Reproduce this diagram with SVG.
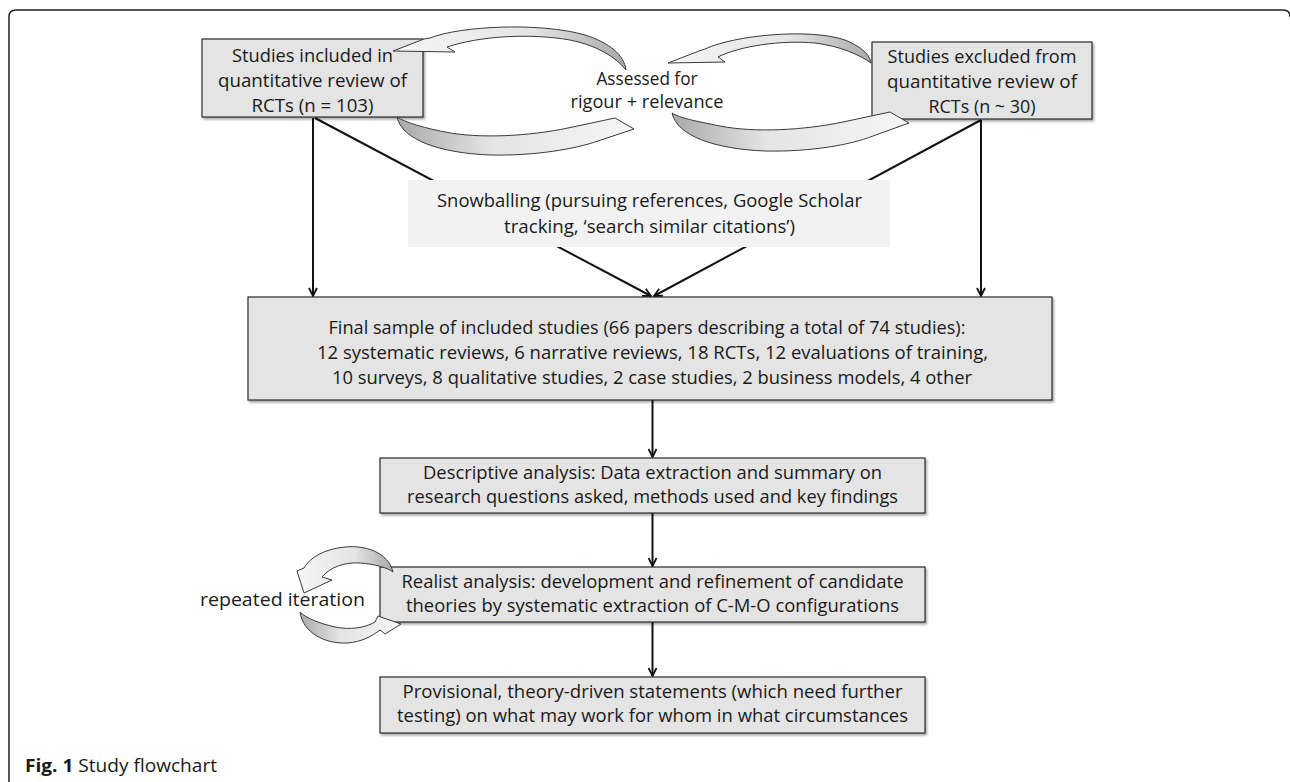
<svg xmlns="http://www.w3.org/2000/svg" width="1290" height="782" viewBox="0 0 1290 782">
  <style>
    .t { font-family: "Open Sans", "Noto Sans", "Liberation Sans", sans-serif; font-size: 18.5px; fill: #1a1a1a; }
    .box { fill: #e4e4e4; stroke: #2a2a2a; stroke-width: 1.2; filter: url(#sh); }
    .soft { fill: #f2f2f2; stroke: none; }
    .con { stroke: #111; stroke-width: 2; fill: none; marker-end: url(#ah); }
    .arcR { fill: url(#gR); stroke: #3a3a3a; stroke-width: 1; stroke-linejoin: round; }
    .arcL { fill: url(#gL); stroke: #3a3a3a; stroke-width: 1; stroke-linejoin: round; }
    .frame { fill: none; stroke: #222; stroke-width: 1.5; }
  </style>
  <defs>
    <marker id="ah" viewBox="0 0 10 10" refX="9" refY="5" markerWidth="10" markerHeight="10" markerUnits="userSpaceOnUse" orient="auto">
      <path d="M1,1 L9,5 L1,9" fill="none" stroke="#111" stroke-width="1.8"/>
    </marker>
    <linearGradient id="gR" x1="0" y1="0" x2="1" y2="0">
      <stop offset="0" stop-color="#f6f6f6"/>
      <stop offset="0.6" stop-color="#e4e4e4"/>
      <stop offset="1" stop-color="#a9a9a9"/>
    </linearGradient>
    <linearGradient id="gL" x1="1" y1="0" x2="0" y2="0">
      <stop offset="0" stop-color="#f6f6f6"/>
      <stop offset="0.6" stop-color="#e4e4e4"/>
      <stop offset="1" stop-color="#a9a9a9"/>
    </linearGradient>
    <filter id="sh" x="-5%" y="-5%" width="115%" height="130%">
      <feDropShadow dx="1.5" dy="2" stdDeviation="1.2" flood-color="#000" flood-opacity="0.35"/>
    </filter>
  </defs>

  <rect width="1290" height="782" fill="#fff"/>
  <path class="frame" d="M9,782 V17 Q9,10 16,10 H1283 Q1290,10 1290,17"/>

  <g id="connectors">
    <line class="con" x1="313" y1="118" x2="313" y2="296"/>
    <line class="con" x1="315" y1="118" x2="651" y2="296"/>
    <line class="con" x1="981" y1="120" x2="981" y2="296"/>
    <line class="con" x1="981" y1="120" x2="654" y2="296"/>
    <line class="con" x1="652.5" y1="400" x2="652.5" y2="457"/>
    <line class="con" x1="652.5" y1="513" x2="652.5" y2="566"/>
    <line class="con" x1="652.5" y1="622" x2="652.5" y2="676"/>
  </g>

  <g id="snowballing">
    <rect class="soft" x="408" y="180" width="482" height="67"/>
    <text class="t" x="649.5" y="207" text-anchor="middle" textLength="425" lengthAdjust="spacingAndGlyphs">Snowballing (pursuing references, Google Scholar</text>
    <text class="t" x="649.5" y="233" text-anchor="middle" textLength="291" lengthAdjust="spacingAndGlyphs">tracking, ‘search similar citations’)</text>
  </g>

  <g id="included">
    <rect class="box" x="202" y="39" width="221" height="78"/>
    <text class="t" x="312.5" y="62" text-anchor="middle" textLength="161" lengthAdjust="spacingAndGlyphs">Studies included in</text>
    <text class="t" x="312.5" y="87" text-anchor="middle" textLength="189" lengthAdjust="spacingAndGlyphs">quantitative review of</text>
    <text class="t" x="312.5" y="112" text-anchor="middle" textLength="122" lengthAdjust="spacingAndGlyphs">RCTs (n = 103)</text>
  </g>

  <g id="excluded">
    <rect class="box" x="872" y="42" width="220" height="77"/>
    <text class="t" x="982" y="63" text-anchor="middle" textLength="189" lengthAdjust="spacingAndGlyphs">Studies excluded from</text>
    <text class="t" x="982" y="88" text-anchor="middle" textLength="190" lengthAdjust="spacingAndGlyphs">quantitative review of</text>
    <text class="t" x="982" y="113" text-anchor="middle" textLength="107" lengthAdjust="spacingAndGlyphs">RCTs (n ~ 30)</text>
  </g>

  <g id="assessed">
    <text class="t" x="647" y="85" text-anchor="middle" textLength="101" lengthAdjust="spacingAndGlyphs">Assessed for</text>
    <text class="t" x="647" y="108" text-anchor="middle" textLength="153" lengthAdjust="spacingAndGlyphs">rigour + relevance</text>
  </g>

  <g id="assess-cycle">
    <path class="arcR" d="M393,51 L424,39 L430,38 C460,26 540,22 585,35 C610,43 624,55 626,70 C615,56 595,45 570,40 C530,33 480,36 447,47 L455,52 Z"/>
    <path class="arcL" d="M397,117 C402,140 440,153 490,155 C535,156 575,149 598,141 L634,129 L615,118 L568,128 C530,136 480,139 445,132 C420,127 405,122 397,117 Z"/>
    <path class="arcR" d="M668,63 L699,51 L705,49 C735,35 810,28 845,40 C862,47 870,55 871,63 C860,55 840,46 815,43 C780,40 740,46 718,57 L725,62 Z"/>
    <path class="arcL" d="M672,113 C677,136 715,149 765,151 C810,152 850,145 873,136 L909,123 L890,112 L843,122 C805,130 755,133 720,126 C695,121 680,118 672,113 Z"/>
  </g>

  <g id="final">
    <rect class="box" x="248" y="297" width="804" height="103"/>
    <text class="t" x="647" y="334" text-anchor="middle" textLength="637" lengthAdjust="spacingAndGlyphs">Final sample of included studies (66 papers describing a total of 74 studies):</text>
    <text class="t" x="652.5" y="359" text-anchor="middle" textLength="671" lengthAdjust="spacingAndGlyphs">12 systematic reviews, 6 narrative reviews, 18 RCTs, 12 evaluations of training,</text>
    <text class="t" x="652" y="384" text-anchor="middle" textLength="640" lengthAdjust="spacingAndGlyphs">10 surveys, 8 qualitative studies, 2 case studies, 2 business models, 4 other</text>
  </g>

  <g id="descriptive">
    <rect class="box" x="380" y="458" width="545" height="55"/>
    <text class="t" x="652.5" y="479" text-anchor="middle" textLength="459" lengthAdjust="spacingAndGlyphs">Descriptive analysis: Data extraction and summary on</text>
    <text class="t" x="652.5" y="503" text-anchor="middle" textLength="491" lengthAdjust="spacingAndGlyphs">research questions asked, methods used and key findings</text>
  </g>

  <g id="realist">
    <rect class="box" x="380" y="567" width="545" height="55"/>
    <text class="t" x="652.5" y="588" text-anchor="middle" textLength="502" lengthAdjust="spacingAndGlyphs">Realist analysis: development and refinement of candidate</text>
    <text class="t" x="652.5" y="612" text-anchor="middle" textLength="493" lengthAdjust="spacingAndGlyphs">theories by systematic extraction of C-M-O configurations</text>
  </g>

  <g id="iteration">
    <path class="arcR" d="M393,572 C388,552 365,545 345,547 C325,549 310,557 304,568 L297,571 L304,593 L332,580 L322,577 C330,567 345,562 360,563 C375,564 388,568 393,572 Z"/>
    <path class="arcL" d="M300,612 C303,633 325,644 347,643 C362,642 372,636 380,630 L385,634 L401,624 L378,616 L375,622 C365,628 350,630 335,627 C318,623 306,618 300,612 Z"/>
    <text class="t" x="282.5" y="606" text-anchor="middle" textLength="165" lengthAdjust="spacingAndGlyphs">repeated iteration</text>
  </g>

  <g id="provisional">
    <rect class="box" x="380" y="677" width="545" height="56"/>
    <text class="t" x="652.5" y="698" text-anchor="middle" textLength="500" lengthAdjust="spacingAndGlyphs">Provisional, theory-driven statements (which need further</text>
    <text class="t" x="652.5" y="722" text-anchor="middle" textLength="511" lengthAdjust="spacingAndGlyphs">testing) on what may work for whom in what circumstances</text>
  </g>

  <g id="caption">
    <text class="t" x="25" y="772" textLength="192" lengthAdjust="spacingAndGlyphs"><tspan font-weight="bold">Fig. 1</tspan> Study flowchart</text>
  </g>
</svg>
